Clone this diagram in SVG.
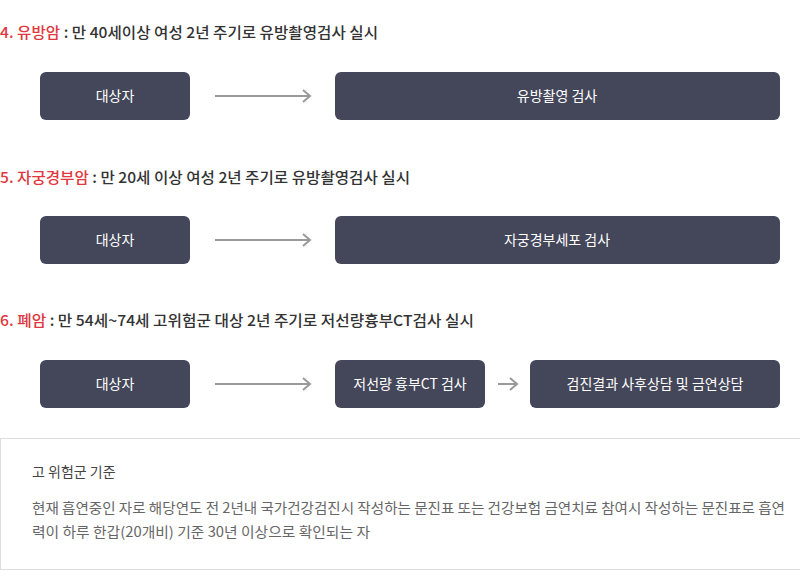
<svg xmlns="http://www.w3.org/2000/svg" width="800" height="578" viewBox="0 0 800 578">
<style>
text{font-family:"Noto Sans CJK KR","Noto Sans",sans-serif}
.h{font-size:15px;fill:#333;font-weight:500}
.r{fill:#e0383e}
.bx{fill:#444659}
.bt{font-size:14px;fill:#fff;text-anchor:middle}
.ar{stroke:#999;stroke-width:2;fill:none}
.pt{font-size:14px;fill:#444}
.pb{font-size:14px;fill:#666}
</style>
<defs>
<marker id="chev" markerWidth="12" markerHeight="14" refX="10" refY="7" orient="auto" markerUnits="userSpaceOnUse">
<path d="M3,1 L10,7 L3,13" fill="none" stroke="#999" stroke-width="2"/>
</marker>
</defs>
<rect width="800" height="578" fill="#fff"/>

<g id="heading4"><text class="h" x="0" y="38" textLength="378" lengthAdjust="spacingAndGlyphs"><tspan class="r">4. 유방암</tspan> : 만 40세이상 여성 2년 주기로 유방촬영검사 실시</text></g>
<g id="heading5"><text class="h" x="0" y="183" textLength="410" lengthAdjust="spacingAndGlyphs"><tspan class="r">5. 자궁경부암</tspan> : 만 20세 이상 여성 2년 주기로 유방촬영검사 실시</text></g>
<g id="heading6"><text class="h" x="0" y="326" textLength="474" lengthAdjust="spacingAndGlyphs"><tspan class="r">6. 폐암</tspan> : 만 54세~74세 고위험군 대상 2년 주기로 저선량흉부CT검사 실시</text></g>

<g id="n1a"><rect class="bx" x="40" y="72" width="150" height="48" rx="6"/><text class="bt" x="115" y="101">대상자</text></g>
<g id="n1b"><rect class="bx" x="335" y="72" width="445" height="48" rx="6"/><text class="bt" x="557" y="101">유방촬영 검사</text></g>
<g id="n2a"><rect class="bx" x="40" y="216" width="150" height="48" rx="6"/><text class="bt" x="115" y="245">대상자</text></g>
<g id="n2b"><rect class="bx" x="335" y="216" width="445" height="48" rx="6"/><text class="bt" x="557" y="245">자궁경부세포 검사</text></g>
<g id="n3a"><rect class="bx" x="40" y="360" width="150" height="48" rx="6"/><text class="bt" x="115" y="389">대상자</text></g>
<g id="n3b"><rect class="bx" x="335" y="360" width="150" height="48" rx="6"/><text class="bt" x="410" y="389">저선량 흉부CT 검사</text></g>
<g id="n3c"><rect class="bx" x="530" y="360" width="250" height="48" rx="6"/><text class="bt" x="655" y="389">검진결과 사후상담 및 금연상담</text></g>

<g id="connectors">
<line class="ar" x1="215" y1="96" x2="310" y2="96" marker-end="url(#chev)"/>
<line class="ar" x1="215" y1="240" x2="310" y2="240" marker-end="url(#chev)"/>
<line class="ar" x1="215" y1="384" x2="310" y2="384" marker-end="url(#chev)"/>
<line class="ar" x1="498" y1="384" x2="517" y2="384" marker-end="url(#chev)"/>
</g>

<g id="panel">
<rect x="0.5" y="438.5" width="800" height="131" fill="#fff" stroke="#ddd" stroke-width="1"/>
<text class="pt" x="32" y="477">고 위험군 기준</text>
<text class="pb" x="32" y="513" textLength="753" lengthAdjust="spacingAndGlyphs">현재 흡연중인 자로 해당연도 전 2년내 국가건강검진시 작성하는 문진표 또는 건강보험 금연치료 참여시 작성하는 문진표로 흡연</text>
<text class="pb" x="32" y="537" textLength="338" lengthAdjust="spacingAndGlyphs">력이 하루 한갑(20개비) 기준 30년 이상으로 확인되는 자</text>
</g>
</svg>
